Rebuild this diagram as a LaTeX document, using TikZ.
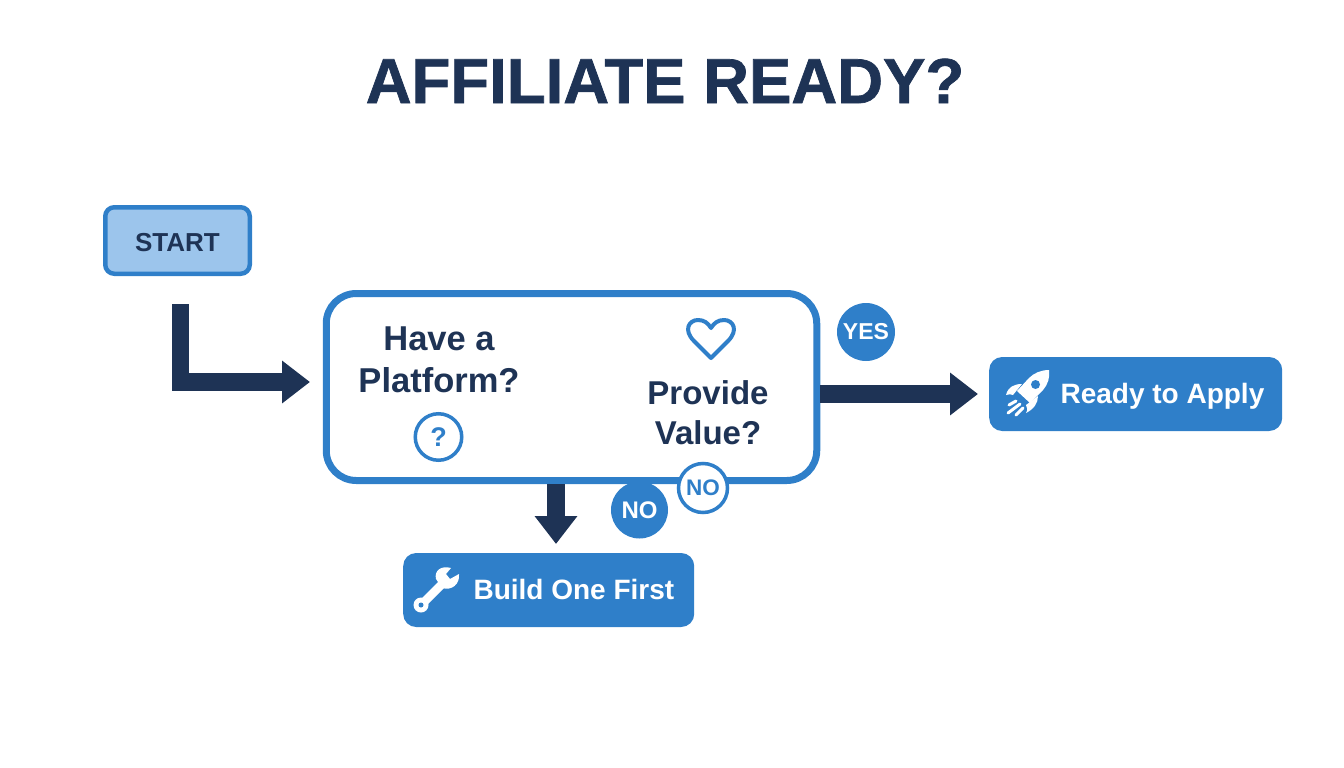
\documentclass[tikz,border=0pt]{standalone}
\usepackage{fontspec}
\setmainfont{Liberation Sans}
\newfontfamily\heavyfont[FakeBold=1.1]{Liberation Sans Bold}
\usetikzlibrary{arrows.meta, positioning}
\definecolor{bluemain}{HTML}{2F7FC9}
\definecolor{bluepale}{HTML}{9CC5EC}
\definecolor{navy}{HTML}{1E3355}
\tikzstyle{startbox} = [rectangle, rounded corners=9pt, minimum width=144.5pt, minimum height=66.5pt, text centered, text height=21pt, text depth=0pt, draw=bluemain, line width=4.5pt, fill=bluepale, text=navy, font=\fontsize{26}{30}\selectfont\bfseries]
\tikzstyle{panel} = [rectangle, rounded corners=30pt, minimum width=490.5pt, minimum height=187pt, draw=bluemain, line width=7pt, fill=white]
\tikzstyle{result} = [rectangle, rounded corners=13pt, fill=bluemain, anchor=west]
\tikzstyle{resulttext} = [text=white, font=\fontsize{28}{32}\selectfont\bfseries, anchor=base west]
\tikzstyle{question} = [text=navy, align=center, font=\fontsize{34.5}{42}\selectfont\bfseries]
\tikzstyle{badge} = [circle, fill=bluemain, text=white, inner sep=0pt, font=\fontsize{24}{26}\selectfont\bfseries]
\tikzstyle{arrow} = [navy, line width=17.5pt, -{Triangle[width=41pt, length=28pt]}]
\begin{document}
\begin{tikzpicture}[x=1pt, y=-1pt]
\useasboundingbox (0,0) rectangle (1344,768);
\node(title) [text=navy, font=\fontsize{63.5}{70}\selectfont\heavyfont, anchor=base] at (665,103) {AFFILIATE READY?};
\node(start) [startbox] at (177.5,240.5) {START};
\node(main) [panel] at (571.5,387) {};
\node(platform) [question] at (439,360) {Have a\\Platform?};
\node(value) [question, font=\fontsize{33}{40}\selectfont\bfseries] at (708,413) {Provide\\Value?};
\node(ask) [circle, draw=bluemain, line width=3.5pt, minimum size=46.5pt, inner sep=0pt, text=bluemain, font=\fontsize{27}{30}\selectfont\bfseries] at (438.5,437) {?};
\node(build) [result, minimum width=291pt, minimum height=74pt] at (403,590) {};
\node(buildtext) [resulttext] at (470,599.5) {Build One First};
\node(ready) [result, minimum width=293pt, minimum height=74pt] at (989,394) {};
\node(readytext) [resulttext] at (1057,403.5) {Ready to Apply};
\node(yes) [badge, minimum size=58pt, font=\fontsize{23}{26}\selectfont\bfseries] at (866,332) {YES};
\node(nofill) [badge, minimum size=57pt] at (639.5,510) {NO};
\node(noring) [badge, draw=bluemain, line width=3.5pt, fill=white, text=bluemain, minimum size=49pt, font=\fontsize{22.5}{26}\selectfont\bfseries] at (703,488) {NO};
% arrows
\coordinate(elbowstart) at (180.5,304);
\coordinate(elbowend) at (310,382);
\coordinate(downstart) at (556,484);
\coordinate(downend) at (556,544);
\draw[arrow] (elbowstart) |- (elbowend);
\draw[arrow] (downstart) -- (downend);
\draw[arrow, shorten >=11pt] (main.east |- ready.west) -- (ready.west);
% heart
\draw[bluemain, line width=4pt, line join=round] (711,358) -- (694,341) .. controls (683,330) and (689,320) .. (698,320) .. controls (704,320) and (708,323) .. (711,328) .. controls (714,323) and (718,320) .. (724,320) .. controls (733,320) and (739,330) .. (728,341) -- cycle;
% wrench
\draw[white, line width=8.5pt, line cap=round] (421,605) -- (443,583);
\fill[white] (421,605) circle (7.5);
\fill[bluemain] (421,605) circle (2.5);
\fill[white] (436,579) .. controls (434,571) and (441,565) .. (451,568) -- (446,574) -- (450,579) -- (459,574) .. controls (460,584) and (452,591) .. (442,588) -- cycle;
% rocket
\fill[white] (1049,370) .. controls (1050,378) and (1048,384) .. (1043,390) -- (1030,403) -- (1017,391) -- (1029,378) .. controls (1034,373) and (1041,370) .. (1049,370) -- cycle;
\fill[bluemain] (1035.5,384.5) circle (4.5);
\fill[white] (1006,395) .. controls (1008,387) and (1014,384) .. (1022,384) -- (1013,395) .. controls (1011,394) and (1009,394) .. (1006,395) -- cycle;
\fill[white] (1026,413) .. controls (1028,410) and (1027,407) .. (1026,405) -- (1038,396) .. controls (1038,403) and (1034,409) .. (1026,413) -- cycle;
\draw[white, line width=3pt, line cap=round] (1009,405) -- (1016,401) (1008,413) -- (1020,404) (1016,415) -- (1023,408);
\end{tikzpicture}
\end{document}
